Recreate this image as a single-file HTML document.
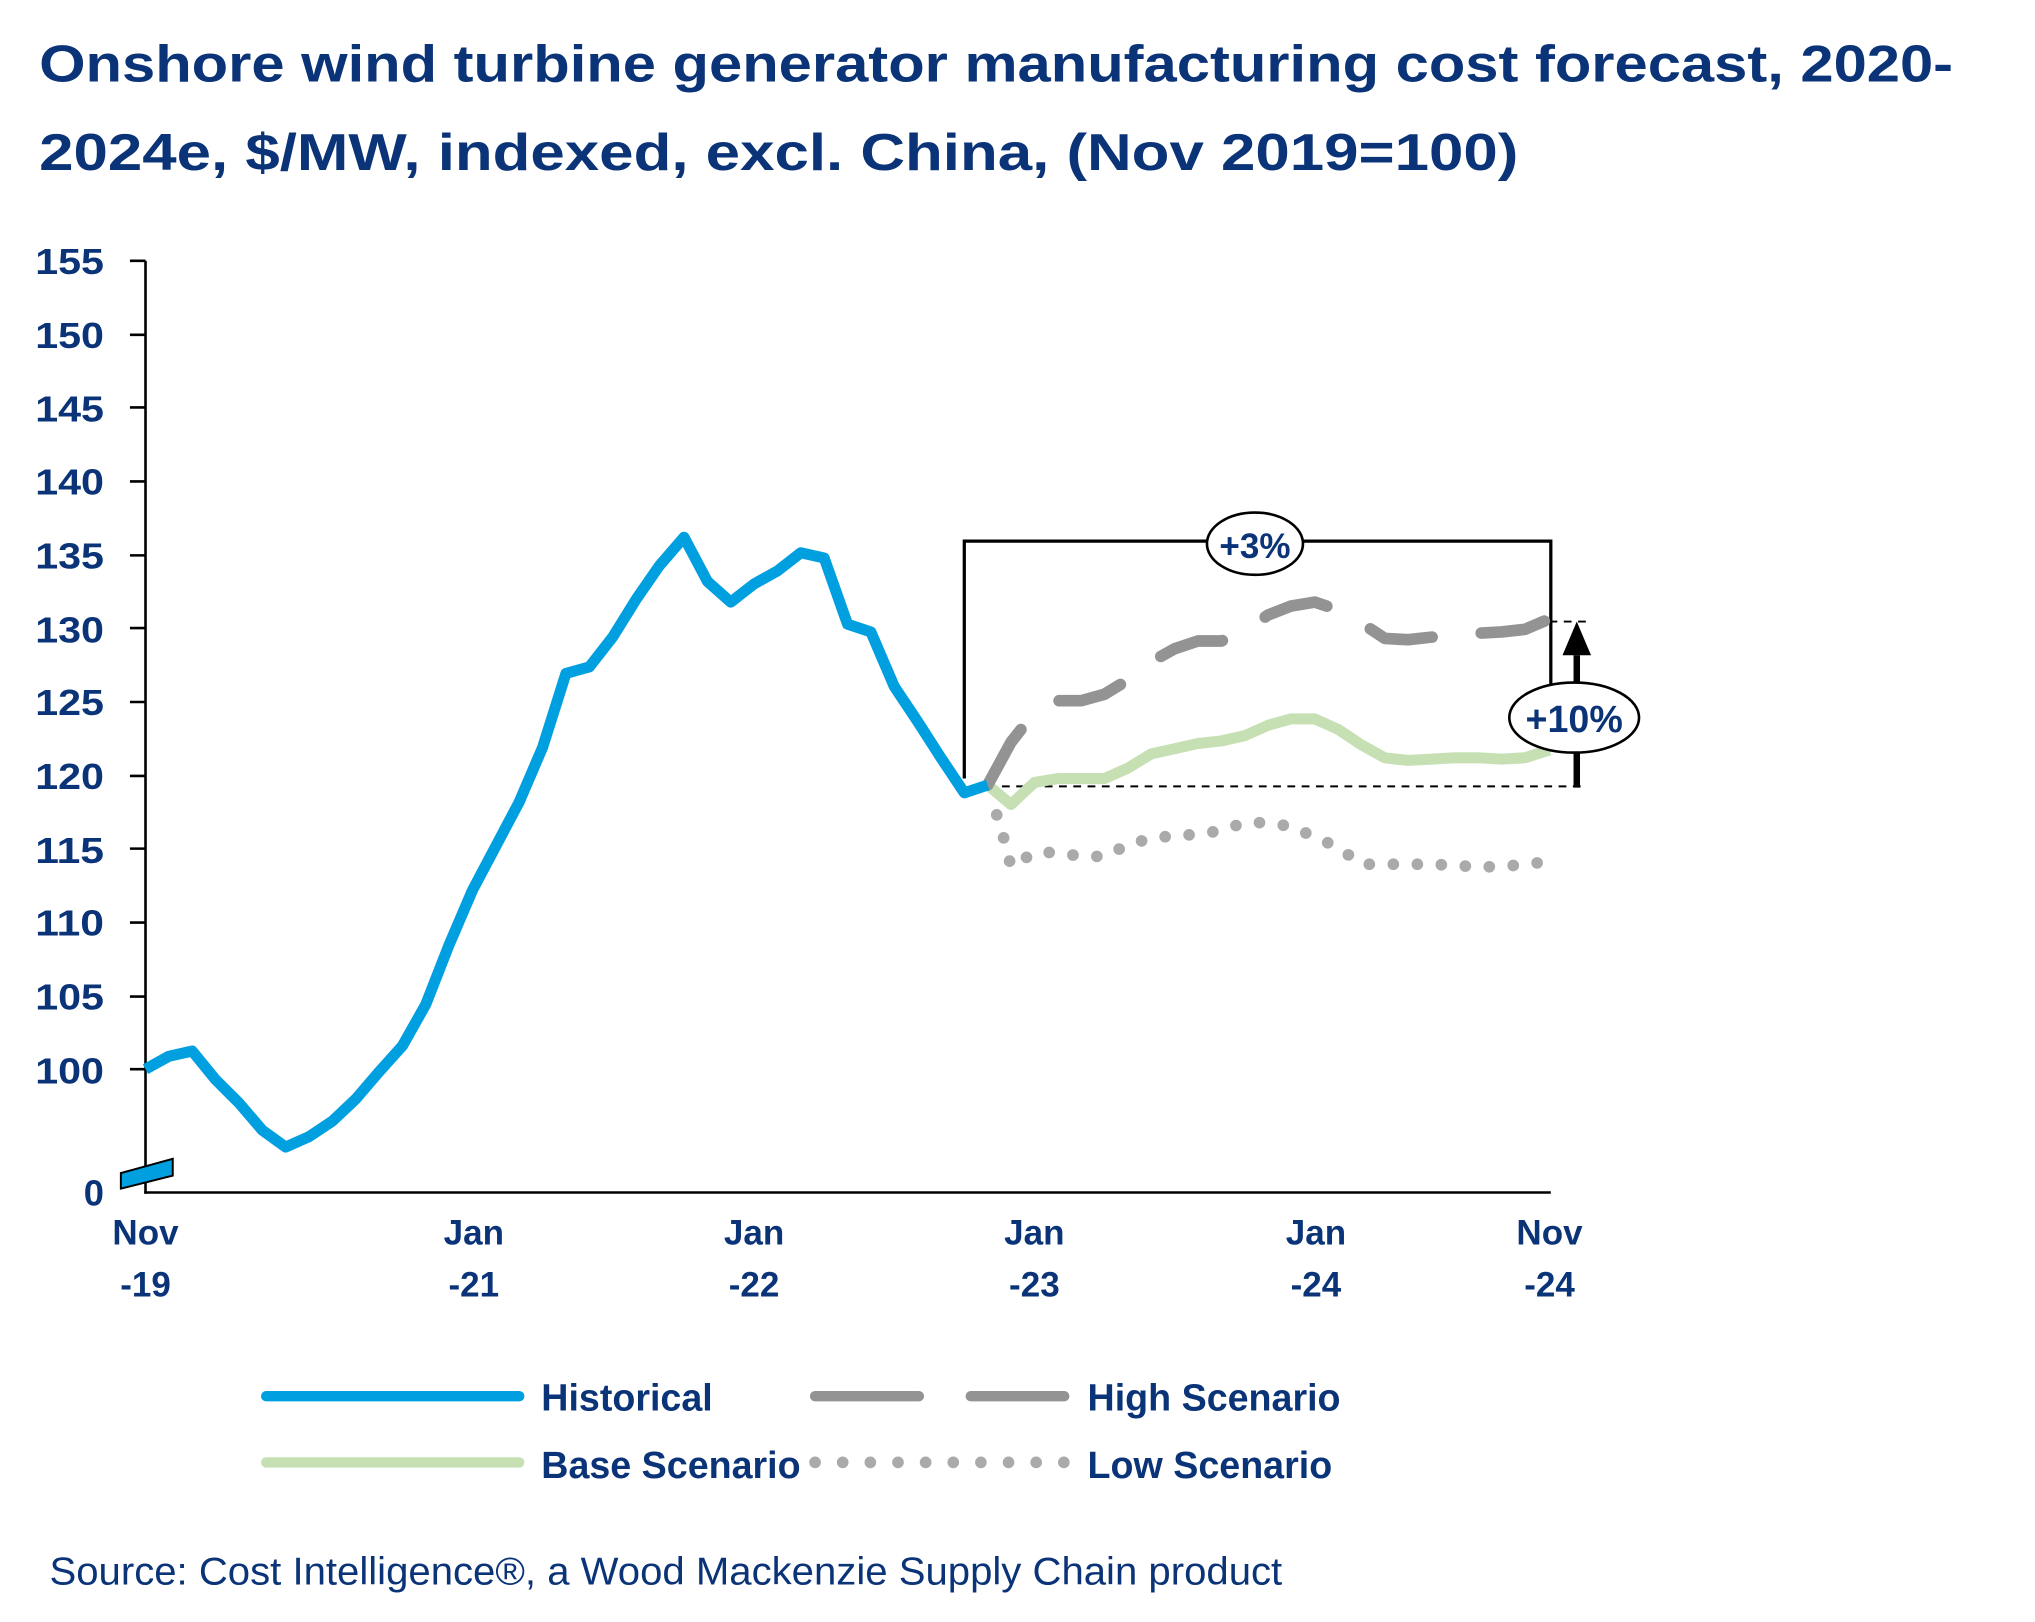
<!DOCTYPE html>
<html><head><meta charset="utf-8"><style>
html,body{margin:0;padding:0;background:#fff;}
svg{display:block;}
text{font-family:"Liberation Sans",sans-serif;}
</style></head><body>
<svg width="2035" height="1622" viewBox="0 0 1568 1250" xmlns="http://www.w3.org/2000/svg">
<g fill="#0b3478" font-weight="bold">
<text x="30" y="63" font-size="40" textLength="1475" lengthAdjust="spacingAndGlyphs">Onshore wind turbine generator manufacturing cost forecast,  2020-</text>
<text x="30" y="131" font-size="40" textLength="1140" lengthAdjust="spacingAndGlyphs">2024e, $/MW, indexed, excl. China, (Nov 2019=100)</text>
<g font-size="28" text-anchor="end">
<text x="80" y="211" textLength="53" lengthAdjust="spacingAndGlyphs">155</text><text x="80" y="268" textLength="53" lengthAdjust="spacingAndGlyphs">150</text><text x="80" y="325" textLength="53" lengthAdjust="spacingAndGlyphs">145</text>
<text x="80" y="381" textLength="53" lengthAdjust="spacingAndGlyphs">140</text><text x="80" y="438" textLength="53" lengthAdjust="spacingAndGlyphs">135</text><text x="80" y="495" textLength="53" lengthAdjust="spacingAndGlyphs">130</text>
<text x="80" y="551" textLength="53" lengthAdjust="spacingAndGlyphs">125</text><text x="80" y="608" textLength="53" lengthAdjust="spacingAndGlyphs">120</text><text x="80" y="665" textLength="53" lengthAdjust="spacingAndGlyphs">115</text>
<text x="80" y="721" textLength="53" lengthAdjust="spacingAndGlyphs">110</text><text x="80" y="778" textLength="53" lengthAdjust="spacingAndGlyphs">105</text><text x="80" y="835" textLength="53" lengthAdjust="spacingAndGlyphs">100</text>
<text x="80" y="929">0</text>
</g>
<g font-size="27" text-anchor="middle">
<text x="112" y="959">Nov</text><text x="112" y="999">-19</text>
<text x="365" y="959">Jan</text><text x="365" y="999">-21</text>
<text x="581" y="959">Jan</text><text x="581" y="999">-22</text>
<text x="797" y="959">Jan</text><text x="797" y="999">-23</text>
<text x="1014" y="959">Jan</text><text x="1014" y="999">-24</text>
<text x="1194" y="959">Nov</text><text x="1194" y="999">-24</text>
</g>
</g>
<g stroke="#000" stroke-width="2">
<line x1="112" y1="201" x2="112" y2="920"/>
<line x1="111" y1="919" x2="1195" y2="919"/>
<g>
<line x1="100" y1="201" x2="112" y2="201"/><line x1="100" y1="258" x2="112" y2="258"/>
<line x1="100" y1="314" x2="112" y2="314"/><line x1="100" y1="371" x2="112" y2="371"/>
<line x1="100" y1="428" x2="112" y2="428"/><line x1="100" y1="484" x2="112" y2="484"/>
<line x1="100" y1="541" x2="112" y2="541"/><line x1="100" y1="598" x2="112" y2="598"/>
<line x1="100" y1="654" x2="112" y2="654"/><line x1="100" y1="711" x2="112" y2="711"/>
<line x1="100" y1="768" x2="112" y2="768"/><line x1="100" y1="824" x2="112" y2="824"/>
</g>
</g>
<polygon points="93,904 133,893 133,906 93,916" fill="#009fe0" stroke="#000" stroke-width="1.5"/>
<polyline points="743,600 743,417 1195,417 1195,572" fill="none" stroke="#000" stroke-width="2.5"/>
<line x1="761" y1="606" x2="1222" y2="606" stroke="#000" stroke-width="1.5" stroke-dasharray="6,5"/>
<line x1="1194" y1="479" x2="1222" y2="479" stroke="#000" stroke-width="1.5" stroke-dasharray="6,5"/>
<line x1="1215" y1="607" x2="1215" y2="505" stroke="#000" stroke-width="5"/>
<polygon points="1215,479 1204,505 1226,505" fill="#000"/>
<polyline fill="none" stroke="#c6e0b4" stroke-width="8.5" stroke-linejoin="round" points="761,605 779,620 797,603 815,600 833,600 851,600 869,592 887,581 905,577 923,573 941,571 959,567 977,559 995,554 1013,554 1031,562 1049,574 1067,584 1085,586 1103,585 1121,584 1139,584 1157,585 1175,584 1194,578"/>
<polyline fill="none" stroke="#aaa" stroke-width="9" stroke-linecap="round" stroke-dasharray="0,18.5" points="768,628 774,648 779,668 797,657 815,657 833,660 851,660 869,651 887,646 905,644 923,643 941,640 959,634 977,634 995,637 1013,645 1031,653 1049,666 1067,666 1085,666 1103,666 1121,667 1139,668 1157,668 1175,666 1194,664"/>
<polyline fill="none" stroke="#939393" stroke-width="9" stroke-linecap="round" stroke-linejoin="round" stroke-dasharray="50,38" points="761,605 779,572 797,549 815,540 833,540 851,535 869,524 887,510 905,500 923,494 941,494 959,487 977,474 995,467 1013,464 1031,470 1049,480 1067,492 1085,493 1103,491 1121,489 1139,488 1157,487 1175,485 1194,477"/>
<polyline fill="none" stroke="#009fe0" stroke-width="8.5" stroke-linejoin="round" points="112,824 130,814 148,810 166,832 184,850 202,871 220,884 238,876 256,864 274,847 292,826 310,806 328,774 346,728 364,686 382,652 400,618 418,576 436,519 454,514 472,491 490,462 508,436 527,414 545,448 563,464 581,450 599,440 617,426 635,430 653,481 671,487 689,529 707,556 725,584 743,611 761,605"/>
<ellipse cx="967" cy="419" rx="37" ry="24" fill="#fff" stroke="#000" stroke-width="2"/>
<text x="967" y="430" font-size="27" font-weight="bold" fill="#0b3478" text-anchor="middle">+3%</text>
<ellipse cx="1213" cy="553" rx="50" ry="27" fill="#fff" stroke="#000" stroke-width="2"/>
<text x="1213" y="564" font-size="29" font-weight="bold" fill="#0b3478" text-anchor="middle">+10%</text>
<line x1="205" y1="1076" x2="400" y2="1076" stroke="#009fe0" stroke-width="8" stroke-linecap="round"/>
<line x1="628" y1="1076" x2="820" y2="1076" stroke="#939393" stroke-width="8" stroke-linecap="round" stroke-dasharray="80,40"/>
<line x1="205" y1="1127" x2="400" y2="1127" stroke="#c6e0b4" stroke-width="8" stroke-linecap="round"/>
<line x1="628" y1="1127" x2="820" y2="1127" stroke="#aaa" stroke-width="9" stroke-linecap="round" stroke-dasharray="0,21.3"/>
<g fill="#0b3478" font-weight="bold" font-size="29">
<text x="417" y="1087">Historical</text>
<text x="838" y="1087">High Scenario</text>
<text x="417" y="1139">Base Scenario</text>
<text x="838" y="1139">Low Scenario</text>
</g>
<text x="38" y="1221" font-size="30" fill="#0b3478" textLength="950" lengthAdjust="spacingAndGlyphs">Source: Cost Intelligence®, a Wood Mackenzie Supply Chain product</text>
</svg>
</body></html>
